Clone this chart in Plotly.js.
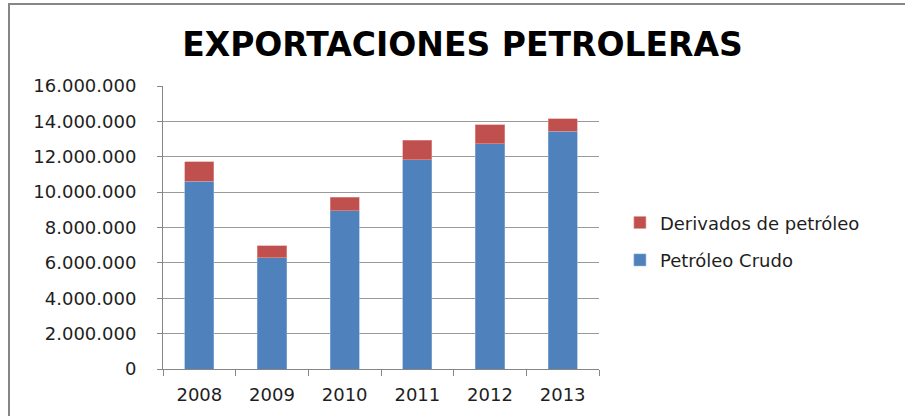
<!DOCTYPE html>
<html>
<head>
<meta charset="utf-8">
<script src="https://cdn.plot.ly/plotly-3.0.1.min.js"></script>
<style>
  html, body { margin: 0; padding: 0; background: #fff; }
  #wrap { position: relative; width: 905px; height: 416px; overflow: hidden; }
  #chart { position: absolute; left: 0; top: 0; width: 905px; height: 416px; }
  #frame { position: absolute; left: 8px; top: 3px; width: 920px; height: 430px;
           border-left: 2px solid #868686; border-top: 2px solid #868686; pointer-events: none; }
</style>
</head>
<body>
<div id="wrap">
  <div id="chart"></div>
  <div id="frame"></div>
</div>
<script>
const years = ['2008', '2009', '2010', '2011', '2012', '2013'];
const crudo = [10610000, 6280000, 8950000, 11830000, 12740000, 13440000];
const derivados = [1110000, 700000, 750000, 1110000, 1080000, 700000];
const seriesNames = ['Petróleo Crudo', 'Derivados de petróleo'];
const titleText = 'EXPORTACIONES PETROLERAS';

const traces = [
  { type: 'bar', x: years, y: crudo, name: seriesNames[0], legendgroup: 'a', legendrank: 2,
    marker: { color: '#4F81BD', line: { color: '#8FB0D8', width: 0.6 } },
    hoverinfo: 'x+y+name' },
  { type: 'bar', x: years, y: derivados, name: seriesNames[1], legendgroup: 'b', legendrank: 1,
    marker: { color: '#C0504D', line: { color: '#E39A98', width: 0.6 } },
    hoverinfo: 'x+y+name' }
];

const layout = {
  width: 905, height: 416,
  margin: { l: 163, r: 306, t: 86, b: 47, pad: 0 },
  paper_bgcolor: '#ffffff', plot_bgcolor: '#ffffff',
  separators: ',.',
  barmode: 'stack',
  bargap: 0.6,
  font: { family: 'DejaVu Sans, sans-serif', size: 16, color: '#1e1e1e' },
  title: {
    text: titleText,
    font: { family: 'DejaVu Sans, sans-serif', size: 33, color: '#000000', weight: 'bold' },
    xref: 'container', yref: 'container', x: 0.511, y: 0.892,
    xanchor: 'center', yanchor: 'middle'
  },
  xaxis: {
    type: 'category',
    showline: true, linecolor: '#868686', linewidth: 1,
    ticks: 'outside', tickson: 'boundaries', ticklen: 6, tickcolor: '#868686',
    tickfont: { size: 18, color: '#1e1e1e' },
    ticklabelstandoff: 9,
    showgrid: false, zeroline: false
  },
  yaxis: {
    range: [0, 16000000], dtick: 2000000, tick0: 0,
    tickformat: ',d',
    showline: true, linecolor: '#868686', linewidth: 1,
    ticks: 'outside', ticklen: 5, tickcolor: '#868686',
    tickfont: { size: 18, color: '#1e1e1e' },
    ticklabelstandoff: 17,
    showgrid: true, gridcolor: '#9a9a9a', gridwidth: 1,
    zeroline: false
  },
  showlegend: true,
  legend: {
    x: 1.048, xanchor: 'left', y: 0.582, yanchor: 'top',
    traceorder: 'grouped', tracegroupgap: 11,
    font: { size: 18, color: '#1e1e1e' },
    bgcolor: 'rgba(0,0,0,0)', borderwidth: 0
  },
  bargroupgap: 0
};

Plotly.newPlot('chart', traces, layout, { displayModeBar: false, staticPlot: true });
</script>
</body>
</html>
